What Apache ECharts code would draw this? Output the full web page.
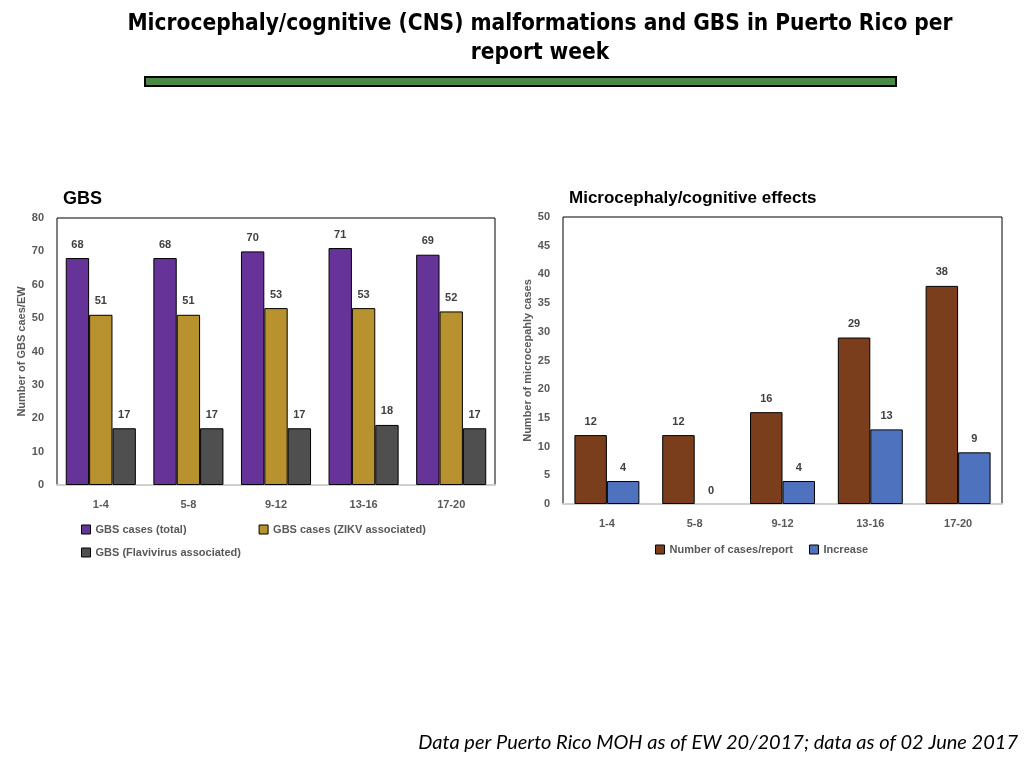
<!DOCTYPE html>
<html>
<head>
<meta charset="utf-8">
<script src="https://cdn.jsdelivr.net/npm/echarts@6/dist/echarts.min.js"></script>
<style>
  html, body { margin: 0; padding: 0; background: #fff; }
  #main { width: 1024px; height: 768px; }
</style>
</head>
<body>
<div id="main"></div>
<script>
"use strict";

// report weeks (same for both charts)
const weeks = ["1-4", "5-8", "9-12", "13-16", "17-20"];

// GBS chart
const gbsTotal = [68, 68, 70, 71, 69];
const gbsZikv = [51, 51, 53, 53, 52];
const gbsFlavi = [17, 17, 17, 18, 17];

// microcephaly chart
const microCases = [12, 12, 16, 29, 38];
const microIncrease = [4, 0, 4, 13, 9];

const GRAY = '#595959';
const FONT = 'Liberation Sans, Arial, sans-serif';

const myChart = echarts.init(document.getElementById('main'), null, {renderer: 'canvas'});

function barSeries(name, data, color, gridIdx, catGap) {
    return {
        name: name,
        type: 'bar',
        xAxisIndex: gridIdx,
        yAxisIndex: gridIdx,
        // a zero bar gets no outline (the reference shows only the label)
        data: data.map(v => v === 0 ? {value: v, itemStyle: {borderWidth: 0}} : v),
        barGap: '0%',
        barCategoryGap: catGap,
        itemStyle: {color: color, borderColor: '#000', borderWidth: 1},
        label: {
            show: true,
            position: 'top',
            distance: 8,
            color: '#404040',
            fontWeight: 'bold',
            fontSize: 11,
            fontFamily: FONT
        }
    };
}

function yAxis(gridIdx, max, interval, name, gap) {
    return {
        type: 'value',
        gridIndex: gridIdx,
        min: 0,
        max: max,
        interval: interval,
        name: name,
        nameLocation: 'middle',
        nameGap: gap,
        nameTextStyle: {color: GRAY, fontWeight: 'bold', fontSize: 11, fontFamily: FONT},
        axisLine: {show: false},
        axisTick: {show: false},
        splitLine: {show: false},
        axisLabel: {color: GRAY, fontWeight: 'bold', fontSize: 11, fontFamily: FONT, margin: 13}
    };
}

function xAxis(gridIdx) {
    return {
        type: 'category',
        gridIndex: gridIdx,
        data: weeks,
        axisLine: {show: true, lineStyle: {color: '#d0d0d0', width: 2}},
        axisTick: {show: false},
        axisLabel: {color: GRAY, fontWeight: 'bold', fontSize: 11, fontFamily: FONT, margin: 14}
    };
}

const legendText = {color: GRAY, fontWeight: 'bold', fontSize: 11, fontFamily: FONT};

let option = {
    animation: false,
    backgroundColor: '#fff',
    title: [
        {
            text: 'Microcephaly/cognitive (CNS) malformations and GBS in Puerto Rico per\nreport week',
            left: 535, top: 5, textAlign: 'center',
            textStyle: {fontFamily: 'Liberation Sans Narrow, DejaVu Sans Condensed, Arial Narrow, sans-serif',
                fontWeight: 'bold', fontSize: 22.5, lineHeight: 29, color: '#000'}
        },
        {text: 'GBS', left: 58, top: 185, textStyle: {fontFamily: FONT, fontWeight: 'bold', fontSize: 18, color: '#000'}},
        {text: 'Microcephaly/cognitive effects', left: 564, top: 185, textStyle: {fontFamily: FONT, fontWeight: 'bold', fontSize: 17, color: '#000'}}
    ],
    legend: [
        {
            data: ['GBS cases (total)', 'GBS cases (ZIKV associated)'],
            left: 76, top: 519, itemWidth: 9, itemHeight: 9, itemGap: 72,
            textStyle: legendText, icon: 'rect',
            itemStyle: {borderColor: '#000', borderWidth: 1}
        },
        {
            data: ['GBS (Flavivirus associated)'],
            left: 76, top: 542, itemWidth: 9, itemHeight: 9,
            textStyle: legendText, icon: 'rect',
            itemStyle: {borderColor: '#000', borderWidth: 1}
        },
        {
            data: ['Number of cases/report', 'Increase'],
            left: 650, top: 539, itemWidth: 9, itemHeight: 9, itemGap: 16,
            textStyle: legendText, icon: 'rect',
            itemStyle: {borderColor: '#000', borderWidth: 1}
        }
    ],
    grid: [
        {left: 57, top: 218, width: 438, height: 267, show: true, borderColor: '#000', borderWidth: 1, backgroundColor: '#fff'},
        {left: 563, top: 217, width: 439, height: 287, show: true, borderColor: '#000', borderWidth: 1, backgroundColor: '#fff'}
    ],
    xAxis: [xAxis(0), xAxis(1)],
    yAxis: [
        yAxis(0, 80, 10, 'Number of GBS caes/EW', 30),
        yAxis(1, 50, 5, 'Number of microcepahly cases', 28)
    ],
    series: [
        barSeries('GBS cases (total)', gbsTotal, '#663399', 0, '20%'),
        barSeries('GBS cases (ZIKV associated)', gbsZikv, '#b8922f', 0, '20%'),
        barSeries('GBS (Flavivirus associated)', gbsFlavi, '#4f4f4f', 0, '20%'),
        barSeries('Number of cases/report', microCases, '#7a3e1c', 1, '26%'),
        barSeries('Increase', microIncrease, '#4f72bf', 1, '26%')
    ],
    graphic: [
        {
            type: 'rect',
            shape: {x: 145, y: 77, width: 751, height: 9},
            style: {fill: '#4a8a45', stroke: '#000', lineWidth: 2}
        },
        {
            type: 'text',
            right: 6, top: 733,
            style: {
                text: 'Data per Puerto Rico MOH as of EW 20/2017; data as of 02 June 2017',
                font: 'italic 20px Lato, "Open Sans", sans-serif',
                fill: '#000'
            }
        }
    ]
};

myChart.setOption(option);
</script>
</body>
</html>
